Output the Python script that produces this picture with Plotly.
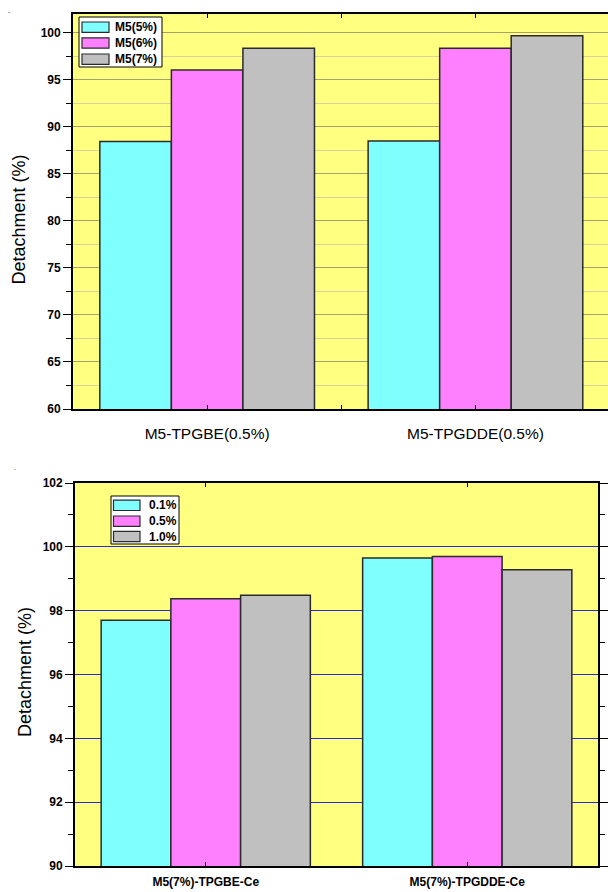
import plotly.graph_objects as go

# ---- data -------------------------------------------------------------
top_categories = ["M5-TPGBE(0.5%)", "M5-TPGDDE(0.5%)"]
top_series = ["M5(5%)", "M5(6%)", "M5(7%)"]
top_m5_5 = [88.45, 88.5]
top_m5_6 = [96.05, 98.35]
top_m5_7 = [98.35, 99.7]

bottom_categories = ["M5(7%)-TPGBE-Ce", "M5(7%)-TPGDDE-Ce"]
bottom_series = ["0.1%", "0.5%", "1.0%"]
bottom_ce_01 = [97.7, 99.65]
bottom_ce_05 = [98.37, 99.7]
bottom_ce_10 = [98.48, 99.28]

# ---- styling ----------------------------------------------------------
W, H = 608, 892
bar_colors = ["#80FFFF", "#FF80FF", "#C0C0C0"]
outline = dict(color="#2b2b2b", width=1.5)
FONT = "Liberation Sans, Arial, sans-serif"


def px(x):
    return x / W


def py(y):
    return 1 - y / H


fig = go.Figure()

top_values = [top_m5_5, top_m5_6, top_m5_7]
bottom_values = [bottom_ce_01, bottom_ce_05, bottom_ce_10]
top_x = list(range(len(top_categories)))
bottom_x = list(range(len(bottom_categories)))

for name, vals, col in zip(top_series, top_values, bar_colors):
    fig.add_trace(go.Bar(x=top_x, y=vals, name=name, marker=dict(color=col, line=outline),
                         xaxis="x", yaxis="y", showlegend=False, offsetgroup=name))

for name, vals, col in zip(bottom_series, bottom_values, bar_colors):
    fig.add_trace(go.Bar(x=bottom_x, y=vals, name=name, marker=dict(color=col, line=outline),
                         xaxis="x2", yaxis="y2", showlegend=False, offsetgroup="b" + name))

tick_font = dict(family=FONT, size=12, color="black", weight="bold")

fig.update_layout(
    width=W, height=H,
    template="none",
    margin=dict(l=0, r=0, t=0, b=0),
    paper_bgcolor="white",
    plot_bgcolor="#FFFF80",
    barmode="group",
    bargap=0.2,
    bargroupgap=0,
    xaxis=dict(
        domain=[px(73), 1.0], anchor="y",
        range=[-0.5, -0.5 + (W - 73) / 268.3],
        tickvals=top_x, ticktext=top_categories,
        tickfont=dict(family=FONT, size=15.5, color="black"),
        ticks="inside", ticklen=4, tickcolor="black",
        minor=dict(dtick=0.5, tick0=0, ticks="inside", ticklen=4, tickcolor="black"),
        showline=True, linecolor="black", linewidth=1.5, mirror="allticks",
        showgrid=False, zeroline=False, ticklabelstandoff=10,
    ),
    yaxis=dict(
        domain=[py(409), py(14)], anchor="x",
        range=[60, 102], tick0=60, dtick=5,
        tickfont=tick_font,
        ticks="outside", ticklen=8, tickcolor="black", tickwidth=1.2,
        showline=True, linecolor="black", linewidth=1.8,
        showgrid=True, gridcolor="#a3a372", gridwidth=1,
        minor=dict(dtick=2.5, ticks="outside", ticklen=5, tickcolor="black",
                   showgrid=True, gridcolor="#d4d49c", gridwidth=1),
        zeroline=False,
    ),
    xaxis2=dict(
        domain=[px(75), px(598)], anchor="y2",
        range=[-0.5, 1.5],
        tickvals=bottom_x, ticktext=bottom_categories,
        tickfont=tick_font,
        ticks="inside", ticklen=4, tickcolor="black",
        showline=True, linecolor="black", linewidth=1.5, mirror="allticks",
        showgrid=False, zeroline=False, ticklabelstandoff=4,
    ),
    yaxis2=dict(
        domain=[py(866), py(483)], anchor="x2",
        range=[90, 102], tick0=90, dtick=2,
        tickfont=tick_font,
        ticks="outside", ticklen=8, tickcolor="black", tickwidth=1.2,
        showline=True, linecolor="black", linewidth=1.8, mirror="allticks",
        showgrid=True, gridcolor="#2a2ad6", gridwidth=1,
        minor=dict(dtick=1, ticks="outside", ticklen=5, tickcolor="black", showgrid=False),
        zeroline=False,
    ),
)

shapes = []
annotations = []

# axis titles
annotations.append(dict(text="Detachment (%)", x=px(18.5), y=py(220), xref="paper", yref="paper",
                        textangle=-90, showarrow=False, xanchor="center", yanchor="middle",
                        font=dict(family=FONT, size=18, color="black")))
annotations.append(dict(text="Detachment (%)", x=px(25), y=py(672), xref="paper", yref="paper",
                        textangle=-90, showarrow=False, xanchor="center", yanchor="middle",
                        font=dict(family=FONT, size=18, color="black")))

# small stray marks in the page corners of each panel
annotations.append(dict(text="-", x=px(6), y=py(5), xref="paper", yref="paper", showarrow=False,
                        font=dict(family=FONT, size=8, color="#555555")))
annotations.append(dict(text=".", x=px(12), y=py(467), xref="paper", yref="paper", showarrow=False,
                        font=dict(family=FONT, size=8, color="#555555")))


def legend_box(x0, y0, x1, y1, sw_x0, sw_x1, text_x, row_centers, names):
    shapes.append(dict(type="rect", xref="paper", yref="paper",
                       x0=px(x0), x1=px(x1), y0=py(y1), y1=py(y0),
                       fillcolor="white", line=dict(color="black", width=1)))
    for yc, name, col in zip(row_centers, names, bar_colors):
        shapes.append(dict(type="rect", xref="paper", yref="paper",
                           x0=px(sw_x0), x1=px(sw_x1), y0=py(yc + 5.2), y1=py(yc - 5.2),
                           fillcolor=col, line=dict(color="#2b2b2b", width=1.2)))
        annotations.append(dict(text=name, x=px(text_x), y=py(yc), xref="paper", yref="paper",
                                showarrow=False, xanchor="left", yanchor="middle",
                                font=dict(family=FONT, size=12, color="black", weight="bold")))


legend_box(79, 17, 162, 67, 82, 109, 113, [27.2, 43.0, 59.2], top_series)
legend_box(111, 496, 179, 544, 113.5, 140, 147, [505.3, 521.2, 536.5], bottom_series)

fig.update_layout(shapes=shapes, annotations=annotations)

fig.write_html("out.html")
